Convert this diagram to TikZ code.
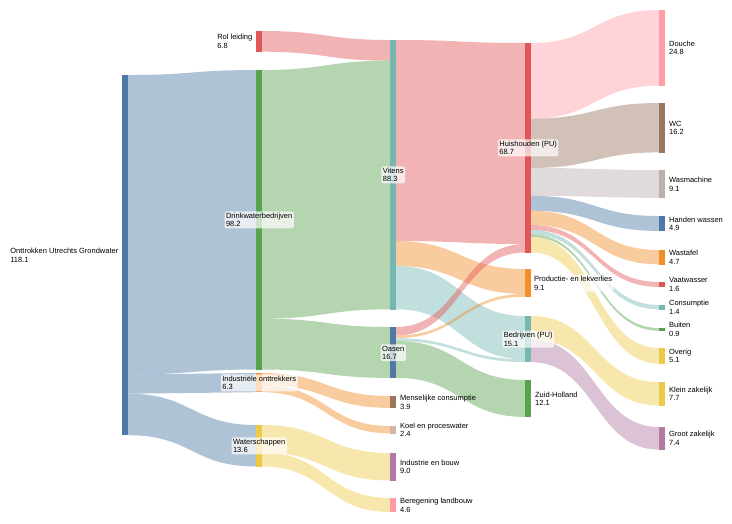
\documentclass[tikz,border=0pt]{standalone}
\usepackage{fontspec}
\setmainfont{Liberation Sans}
\definecolor{cblue}{HTML}{4E79A7}
\definecolor{cgreen}{HTML}{59A14F}
\definecolor{cred}{HTML}{E15759}
\definecolor{corange}{HTML}{F28E2B}
\definecolor{cteal}{HTML}{76B7B2}
\definecolor{cyellow}{HTML}{EDC948}
\definecolor{cpurple}{HTML}{B07AA1}
\definecolor{cpink}{HTML}{FF9DA7}
\definecolor{cbrown}{HTML}{9C755F}
\definecolor{cgray}{HTML}{BAB0AC}
\definecolor{ctan}{HTML}{D7B5A6}
\newcommand\flowband[6]{%
\fill[#6,fill opacity=0.45] (#1,#2) .. controls ({(#1+#3)/2},#2) and ({(#1+#3)/2},#4) .. (#3,#4) -- (#3,{#4+#5}) .. controls ({(#1+#3)/2},{#4+#5}) and ({(#1+#3)/2},{#2+#5}) .. (#1,{#2+#5}) -- cycle;}
\tikzset{bar/.style={minimum width=6pt,inner sep=0pt,anchor=north west,draw=none},
lab/.style={font=\fontsize{7.5}{8.5}\selectfont,align=left,inner sep=1.5pt},
boxlab/.style={lab,fill=white,fill opacity=0.7,text opacity=1,rounded corners=2pt}}
\begin{document}
\begin{tikzpicture}[x=1pt,y=-1pt]
\useasboundingbox (0,0) rectangle (732,523);
% links
\flowband{128}{75}{256}{70}{299.5}{cblue}
\flowband{128}{374.5}{256}{373}{19.2}{cblue}
\flowband{128}{393.7}{256}{425}{41.5}{cblue}
\flowband{262}{31}{390}{40}{20.7}{cred}
\flowband{262}{70}{390}{60.7}{248.6}{cgreen}
\flowband{262}{318.6}{390}{327}{50.9}{cgreen}
\flowband{262}{373}{390}{396}{11.9}{corange}
\flowband{262}{384.9}{390}{426}{7.3}{corange}
\flowband{262}{425}{390}{453}{27.5}{cyellow}
\flowband{262}{452.5}{390}{498}{14}{cyellow}
\flowband{396}{40}{525}{43}{201}{cred}
\flowband{396}{241}{525}{269}{25}{corange}
\flowband{396}{266}{525}{316}{43.3}{cteal}
\flowband{396}{327}{525}{244}{8.5}{cred}
\flowband{396}{335.5}{525}{294}{2.7}{corange}
\flowband{396}{338.3}{525}{359.3}{2.7}{cteal}
\flowband{396}{341}{525}{380}{36.9}{cgreen}
\flowband{531}{43}{659}{10}{75.6}{cpink}
\flowband{531}{118.6}{659}{103}{49.4}{cbrown}
\flowband{531}{168}{659}{170}{27.8}{cgray}
\flowband{531}{195.8}{659}{216}{14.9}{cblue}
\flowband{531}{210.7}{659}{250}{14.3}{corange}
\flowband{531}{225}{659}{282}{4.9}{cred}
\flowband{531}{229.9}{659}{305}{4.3}{cteal}
\flowband{531}{234.2}{659}{328}{2.7}{cgreen}
\flowband{531}{236.9}{659}{348}{15.6}{cyellow}
\flowband{531}{316}{659}{382}{23.5}{cyellow}
\flowband{531}{339.5}{659}{427}{22.6}{cpurple}
% bars
\node[bar,fill=cblue,minimum height=360.2pt] (ont) at (122,75) {};
\node[bar,fill=cred,minimum height=20.7pt] (rol) at (256,31) {};
\node[bar,fill=cgreen,minimum height=299.5pt] (drink) at (256,70) {};
\node[bar,fill=corange,minimum height=19.2pt] (ind) at (256,373) {};
\node[bar,fill=cyellow,minimum height=41.5pt] (wat) at (256,425) {};
\node[bar,fill=cteal,minimum height=269.3pt] (vit) at (390,40) {};
\node[bar,fill=cblue,minimum height=51pt] (oas) at (390,327) {};
\node[bar,fill=cbrown,minimum height=11.9pt] (mens) at (390,396) {};
\node[bar,fill=ctan,minimum height=7.3pt] (koel) at (390,426) {};
\node[bar,fill=cpurple,minimum height=27.5pt] (ib) at (390,453) {};
\node[bar,fill=cpink,minimum height=14pt] (ber) at (390,498) {};
\node[bar,fill=cred,minimum height=209.5pt] (hh) at (525,43) {};
\node[bar,fill=corange,minimum height=27.8pt] (prod) at (525,269) {};
\node[bar,fill=cteal,minimum height=46pt] (bedr) at (525,316) {};
\node[bar,fill=cgreen,minimum height=36.9pt] (zh) at (525,380) {};
\node[bar,fill=cpink,minimum height=75.6pt] (dou) at (659,10) {};
\node[bar,fill=cbrown,minimum height=49.4pt] (wc) at (659,103) {};
\node[bar,fill=cgray,minimum height=27.8pt] (wasm) at (659,170) {};
\node[bar,fill=cblue,minimum height=14.9pt] (hand) at (659,216) {};
\node[bar,fill=corange,minimum height=14.3pt] (wast) at (659,250) {};
\node[bar,fill=cred,minimum height=4.9pt] (vaat) at (659,282) {};
\node[bar,fill=cteal,minimum height=4.3pt] (cons) at (659,305) {};
\node[bar,fill=cgreen,minimum height=2.7pt] (buit) at (659,328) {};
\node[bar,fill=cyellow,minimum height=15.6pt] (ove) at (659,348) {};
\node[bar,fill=cyellow,minimum height=23.5pt] (klein) at (659,382) {};
\node[bar,fill=cpurple,minimum height=22.6pt] (groot) at (659,427) {};
% labels
\node[lab,anchor=east] at ([xshift=-2pt]ont.west) {Onttrokken Utrechts Grondwater\\118.1};
\node[lab,anchor=east] at ([xshift=-2pt]rol.west) {Rol leiding\\6.8};
\node[boxlab] at (drink.center) {Drinkwaterbedrijven\\98.2};
\node[boxlab] at (ind.center) {Industriële onttrekkers\\6.3};
\node[boxlab] at (wat.center) {Waterschappen\\13.6};
\node[boxlab] at (vit.center) {Vitens\\88.3};
\node[boxlab] at (oas.center) {Oasen\\16.7};
\node[lab,anchor=west] at ([xshift=2pt]mens.east) {Menselijke consumptie\\3.9};
\node[lab,anchor=west] at ([xshift=2pt]koel.east) {Koel en proceswater\\2.4};
\node[lab,anchor=west] at ([xshift=2pt]ib.east) {Industrie en bouw\\9.0};
\node[lab,anchor=west] at ([xshift=2pt]ber.east) {Beregening landbouw\\4.6};
\node[boxlab] at (hh.center) {Huishouden (PU)\\68.7};
\node[boxlab,anchor=west] at ([xshift=1pt]prod.east) {Productie- en lekverlies\\9.1};
\node[boxlab] at (bedr.center) {Bedrijven (PU)\\15.1};
\node[lab,anchor=west] at ([xshift=2pt]zh.east) {Zuid-Holland\\12.1};
\node[lab,anchor=west] at ([xshift=2pt]dou.east) {Douche\\24.8};
\node[lab,anchor=west] at ([xshift=2pt]wc.east) {WC\\16.2};
\node[lab,anchor=west] at ([xshift=2pt]wasm.east) {Wasmachine\\9.1};
\node[lab,anchor=west] at ([xshift=2pt]hand.east) {Handen wassen\\4.9};
\node[lab,anchor=west] at ([xshift=2pt]wast.east) {Wastafel\\4.7};
\node[lab,anchor=west] at ([xshift=2pt]vaat.east) {Vaatwasser\\1.6};
\node[lab,anchor=west] at ([xshift=2pt]cons.east) {Consumptie\\1.4};
\node[lab,anchor=west] at ([xshift=2pt]buit.east) {Buiten\\0.9};
\node[lab,anchor=west] at ([xshift=2pt]ove.east) {Overig\\5.1};
\node[lab,anchor=west] at ([xshift=2pt]klein.east) {Klein zakelijk\\7.7};
\node[lab,anchor=west] at ([xshift=2pt]groot.east) {Groot zakelijk\\7.4};
\end{tikzpicture}
\end{document}
